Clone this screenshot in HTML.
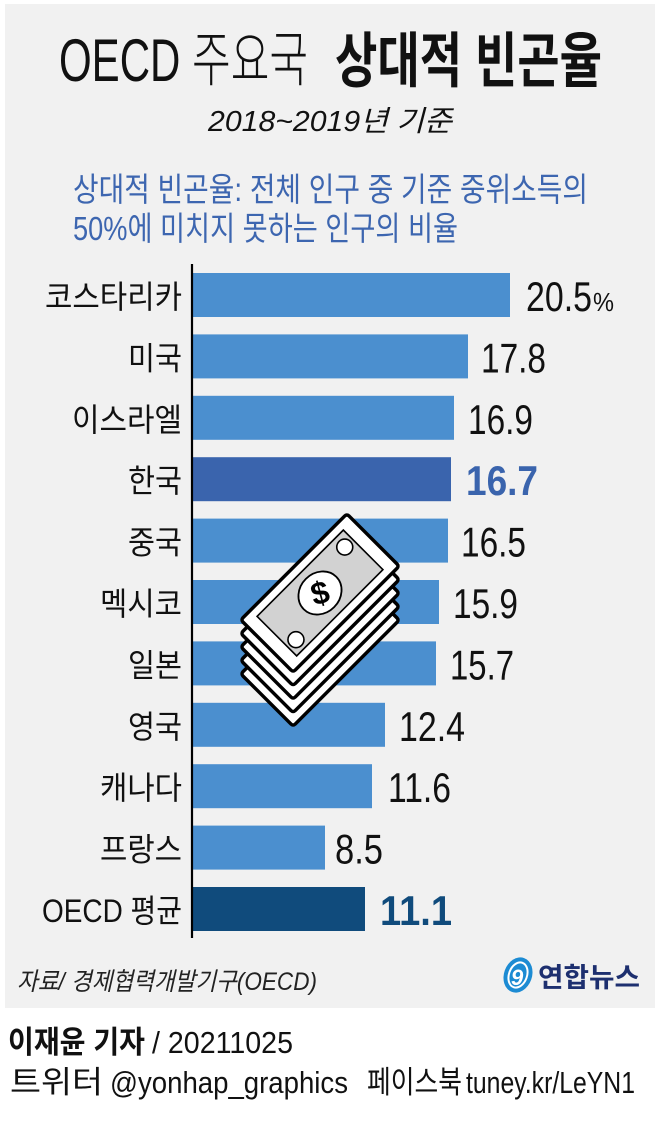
<!DOCTYPE html>
<html>
<head>
<meta charset="utf-8">
<style>
html,body{margin:0;padding:0;background:#fff;}
svg{display:block;}
text{font-family:"Liberation Sans","Noto Sans CJK KR",sans-serif;}
</style>
</head>
<body>
<svg width="658" height="1122" viewBox="0 0 658 1122" xmlns="http://www.w3.org/2000/svg">
  <rect x="0" y="0" width="658" height="1122" fill="#ffffff"/>
  <rect x="5" y="4" width="650" height="1004" fill="#f1f1f1"/>

  <!-- Title -->
  <text x="59" y="81" font-size="60" font-weight="200" fill="#111" textLength="249" lengthAdjust="spacingAndGlyphs">OECD 주요국</text>
  <text x="335" y="82" font-size="60" font-weight="700" fill="#111" textLength="267" lengthAdjust="spacingAndGlyphs">상대적 빈곤율</text>

  <!-- Subtitle -->
  <text x="208" y="131" font-size="29" font-style="italic" fill="#111" textLength="244" lengthAdjust="spacingAndGlyphs">2018~2019년 기준</text>

  <!-- Description -->
  <text x="73" y="201" font-size="33" fill="#3d66b0" textLength="515" lengthAdjust="spacingAndGlyphs">상대적 빈곤율: 전체 인구 중 기준 중위소득의</text>
  <text x="73" y="240" font-size="33" fill="#3d66b0" textLength="385" lengthAdjust="spacingAndGlyphs">50%에 미치지 못하는 인구의 비율</text>

  <!-- Bars -->
  <g>
    <rect x="193" y="273" width="317" height="44" fill="#4b8fcf"/>
    <rect x="193" y="334.4" width="275" height="44" fill="#4b8fcf"/>
    <rect x="193" y="395.8" width="261" height="44" fill="#4b8fcf"/>
    <rect x="193" y="457.2" width="258" height="44" fill="#3a64ad"/>
    <rect x="193" y="518.6" width="255" height="44" fill="#4b8fcf"/>
    <rect x="193" y="580" width="246" height="44" fill="#4b8fcf"/>
    <rect x="193" y="641.4" width="243" height="44" fill="#4b8fcf"/>
    <rect x="193" y="702.8" width="192" height="44" fill="#4b8fcf"/>
    <rect x="193" y="764.2" width="179" height="44" fill="#4b8fcf"/>
    <rect x="193" y="825.6" width="132" height="44" fill="#4b8fcf"/>
    <rect x="193" y="887" width="172" height="44" fill="#104b7c"/>
  </g>
  <line x1="192" y1="264" x2="192" y2="938" stroke="#000" stroke-width="2.2"/>

  <!-- Category labels -->
  <g font-size="32" fill="#111">
    <text x="45" y="308" textLength="137" lengthAdjust="spacingAndGlyphs">코스타리카</text>
    <text x="128" y="369.4" textLength="54" lengthAdjust="spacingAndGlyphs">미국</text>
    <text x="72" y="430.8" textLength="110" lengthAdjust="spacingAndGlyphs">이스라엘</text>
    <text x="128" y="492.2" textLength="54" lengthAdjust="spacingAndGlyphs">한국</text>
    <text x="128" y="553.6" textLength="54" lengthAdjust="spacingAndGlyphs">중국</text>
    <text x="100" y="615" textLength="82" lengthAdjust="spacingAndGlyphs">멕시코</text>
    <text x="128" y="676.4" textLength="54" lengthAdjust="spacingAndGlyphs">일본</text>
    <text x="128" y="737.8" textLength="54" lengthAdjust="spacingAndGlyphs">영국</text>
    <text x="100" y="799.2" textLength="82" lengthAdjust="spacingAndGlyphs">캐나다</text>
    <text x="100" y="860.6" textLength="82" lengthAdjust="spacingAndGlyphs">프랑스</text>
    <text x="42" y="922" textLength="140" lengthAdjust="spacingAndGlyphs">OECD 평균</text>
  </g>

  <!-- Values -->
  <g font-size="42" fill="#111">
    <text x="526" y="311" textLength="66" lengthAdjust="spacingAndGlyphs">20.5</text>
    <text x="593" y="311" font-size="26" textLength="21" lengthAdjust="spacingAndGlyphs">%</text>
    <text x="481" y="372.4" textLength="65" lengthAdjust="spacingAndGlyphs">17.8</text>
    <text x="468" y="433.8" textLength="65" lengthAdjust="spacingAndGlyphs">16.9</text>
    <text x="466" y="495.2" font-weight="700" fill="#3a64ad" textLength="72" lengthAdjust="spacingAndGlyphs">16.7</text>
    <text x="461" y="556.6" textLength="65" lengthAdjust="spacingAndGlyphs">16.5</text>
    <text x="453" y="618" textLength="65" lengthAdjust="spacingAndGlyphs">15.9</text>
    <text x="450" y="679.4" textLength="64" lengthAdjust="spacingAndGlyphs">15.7</text>
    <text x="399" y="740.8" textLength="66" lengthAdjust="spacingAndGlyphs">12.4</text>
    <text x="388" y="802.2" textLength="63" lengthAdjust="spacingAndGlyphs">11.6</text>
    <text x="335" y="863.6" textLength="48" lengthAdjust="spacingAndGlyphs">8.5</text>
    <text x="380" y="925" font-weight="700" fill="#104b7c" textLength="72" lengthAdjust="spacingAndGlyphs">11.1</text>
  </g>

  <!-- Money stack icon -->
  <g transform="translate(320,593)">
    <g transform="translate(0,54)"><rect x="-75" y="-37" width="150" height="74" rx="3" transform="rotate(-45)" fill="#fff" stroke="#000" stroke-width="3.5"/></g>
    <g transform="translate(0,40.5)"><rect x="-75" y="-37" width="150" height="74" rx="3" transform="rotate(-45)" fill="#fff" stroke="#000" stroke-width="3.5"/></g>
    <g transform="translate(0,27)"><rect x="-75" y="-37" width="150" height="74" rx="3" transform="rotate(-45)" fill="#fff" stroke="#000" stroke-width="3.5"/></g>
    <g transform="translate(0,13.5)"><rect x="-75" y="-37" width="150" height="74" rx="3" transform="rotate(-45)" fill="#fff" stroke="#000" stroke-width="3.5"/></g>
    <g transform="rotate(-45)">
      <rect x="-75" y="-37" width="150" height="74" rx="3" fill="#fff" stroke="#000" stroke-width="3.5"/>
      <rect x="-61" y="-28" width="122" height="56" fill="#d2d2d2" stroke="#000" stroke-width="1.6"/>
      <circle cx="50" cy="-15" r="8" fill="#fff" stroke="#000" stroke-width="1.6"/>
      <circle cx="-50" cy="16" r="8" fill="#fff" stroke="#000" stroke-width="1.6"/>
      <ellipse cx="0" cy="0" rx="23" ry="20" fill="#fff" stroke="#000" stroke-width="1.8"/>
      <text x="0" y="11" font-size="32" font-weight="700" text-anchor="middle" fill="#000" transform="rotate(30)">$</text>
    </g>
  </g>

  <!-- Source -->
  <text x="17" y="990" font-size="25" font-style="italic" fill="#222" textLength="300" lengthAdjust="spacingAndGlyphs">자료/ 경제협력개발기구(OECD)</text>

  <!-- Logo -->
  <g transform="translate(518,975) rotate(20)">
    <ellipse cx="0" cy="0" rx="14" ry="18" fill="#1c8bd3"/>
    <ellipse cx="0" cy="0" rx="9" ry="13" fill="none" stroke="#fff" stroke-width="2"/>
  </g>
  <text x="511" y="985" font-size="22" font-weight="700" font-style="italic" fill="#fff">9</text>
  <text x="538" y="987" font-size="27" font-weight="700" fill="#1d2f6f" textLength="102" lengthAdjust="spacingAndGlyphs">연합뉴스</text>

  <!-- Footer -->
  <text x="8" y="1053" font-size="31" font-weight="700" fill="#111" textLength="137" lengthAdjust="spacingAndGlyphs">이재윤 기자</text>
  <text x="152" y="1053" font-size="31" fill="#111" textLength="141" lengthAdjust="spacingAndGlyphs">/ 20211025</text>
  <text x="10" y="1093" font-size="31" fill="#111" textLength="93" lengthAdjust="spacingAndGlyphs">트위터</text>
  <text x="110" y="1093" font-size="31" fill="#111" textLength="238" lengthAdjust="spacingAndGlyphs">@yonhap_graphics</text>
  <text x="367" y="1093" font-size="31" fill="#111" textLength="95" lengthAdjust="spacingAndGlyphs">페이스북</text>
  <text x="466" y="1093" font-size="31" fill="#111" textLength="169" lengthAdjust="spacingAndGlyphs">tuney.kr/LeYN1</text>
</svg>
</body>
</html>
